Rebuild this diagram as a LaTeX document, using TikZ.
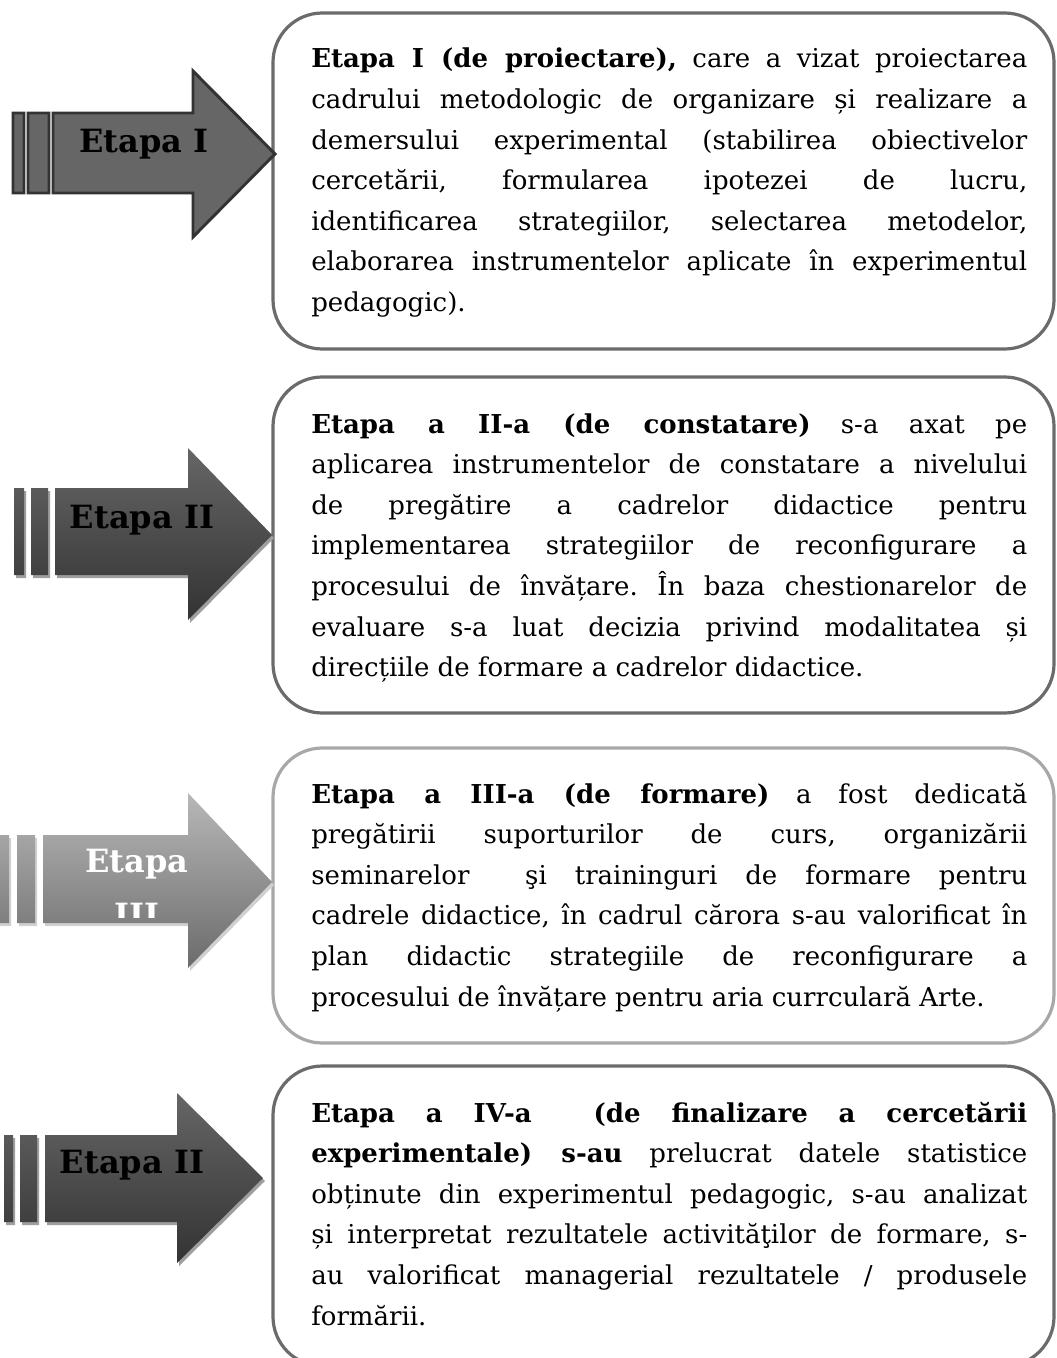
\documentclass[tikz,border=0pt]{standalone}
\usepackage{fontspec}
\setmainfont{DejaVu Serif}
\frenchspacing
\definecolor{boxdark}{HTML}{6B6B6B}
\definecolor{boxlight}{HTML}{A8A8A8}
\definecolor{arrowfill}{HTML}{666666}
\definecolor{arrowline}{HTML}{333333}
\definecolor{shadowdark}{HTML}{9E9E9E}
\definecolor{shadowlight}{HTML}{D0D0D0}
\newlength\stw
\setlength\stw{537pt}
\newcommand\jl[1]{\hbox to\stw{#1}}
\newcommand\lastln[1]{\hbox{#1}}
\newcommand\bodyfont{\fontsize{19.5}{30.45}\selectfont}
\newcommand\labelfont{\fontsize{24}{30}\selectfont\bfseries}
\newcommand\stagetext[1]{\vtop{\hsize=\stw\baselineskip=30.45pt\lineskiplimit=-30pt\lineskip=0pt #1}}
\tikzset{
  stagebox/.style={draw=#1, line width=2.4pt, rounded corners=37pt, fill=white},
  bodytext/.style={anchor=base west, inner sep=0pt, font=\bodyfont, text=black},
  arrowlabel/.style={anchor=base, inner sep=0pt, font=\labelfont, text=black},
}
\begin{document}
\begin{tikzpicture}[x=0.75pt,y=-0.75pt]
\useasboundingbox (0,0) rectangle (1056,1358);
\fill[white] (0,0) rectangle (1056,1358);

% boxes
\path[stagebox=boxdark] (273,13) rectangle (1054,349);
\path[stagebox=boxdark] (273,377) rectangle (1054,713);
\path[stagebox=boxlight] (273,748) rectangle (1054,1043);
\path[stagebox=boxdark] (273,1066) rectangle (1054,1366);

% arrow 1
\path[fill=arrowfill, draw=arrowline, line width=2.2pt, line join=miter]
  (53,113) -- (193,113) -- (193,71) -- (275,154) -- (193,237) -- (193,193) -- (53,193) -- cycle
  (13,113) rectangle (24,193)
  (28,113) rectangle (49,193);
\node[arrowlabel] (l1) at (144,153) {Etapa I};

% arrow 2
\begin{scope}[shift={(2,3)}]
\fill[shadowdark]
  (55,488) -- (188,488) -- (188,448) -- (272,535) -- (188,620) -- (188,575) -- (55,575) -- cycle
  (14,488) rectangle (24,575)
  (31,488) rectangle (48,575);
\end{scope}
\shade[top color=black!60, bottom color=black!80]
  (55,488) -- (188,488) -- (188,448) -- (272,535) -- (188,620) -- (188,575) -- (55,575) -- cycle
  (14,488) rectangle (24,575)
  (31,488) rectangle (48,575);
\node[arrowlabel] (l2) at (142,528) {Etapa II};

% arrow 3
\begin{scope}[shift={(2,3)}]
\fill[shadowlight]
  (43,835) -- (188,835) -- (188,793) -- (272,882) -- (188,968) -- (188,923) -- (43,923) -- cycle
  (-5,835) rectangle (9,923)
  (17,835) rectangle (35,923);
\end{scope}
\shade[top color=black!28, bottom color=black!58]
  (43,835) -- (188,835) -- (188,793) -- (272,882) -- (188,968) -- (188,923) -- (43,923) -- cycle
  (-5,835) rectangle (9,923)
  (17,835) rectangle (35,923);
\begin{scope}
\clip (40,830) rectangle (200,917);
\node[arrowlabel, text=white] (l3a) at (137,872) {Etapa};
\node[arrowlabel, text=white] (l3b) at (137,926) {III};
\end{scope}

% arrow 4
\begin{scope}[shift={(2,3)}]
\fill[shadowdark]
  (45,1135) -- (177,1135) -- (177,1093) -- (263,1178) -- (177,1263) -- (177,1222) -- (45,1222) -- cycle
  (4,1135) rectangle (13,1222)
  (20,1135) rectangle (37,1222);
\end{scope}
\shade[top color=black!60, bottom color=black!80]
  (45,1135) -- (177,1135) -- (177,1093) -- (263,1178) -- (177,1263) -- (177,1222) -- (45,1222) -- cycle
  (4,1135) rectangle (13,1222)
  (20,1135) rectangle (37,1222);
\node[arrowlabel] (l4) at (132,1173) {Etapa II};

% texts
\node[bodytext] (t1) at (311,68) {\stagetext{%
\jl{\textbf{Etapa I (de proiectare),} care a vizat proiectarea}
\jl{cadrului metodologic de organizare și realizare a}
\jl{demersului experimental (stabilirea obiectivelor}
\jl{cercetării, formularea ipotezei de lucru,}
\jl{identificarea strategiilor, selectarea metodelor,}
\jl{elaborarea instrumentelor aplicate în experimentul}
\lastln{pedagogic).}}};

\node[bodytext] (t2) at (311,433) {\stagetext{%
\jl{\textbf{Etapa a II-a (de constatare)} s-a axat pe}
\jl{aplicarea instrumentelor de constatare a nivelului}
\jl{de pregătire a cadrelor didactice pentru}
\jl{implementarea strategiilor de reconfigurare a}
\jl{procesului de învățare. În baza chestionarelor de}
\jl{evaluare s-a luat decizia privind modalitatea și}
\lastln{direcțiile de formare a cadrelor didactice.}}};

\node[bodytext] (t3) at (311,803) {\stagetext{%
\jl{\textbf{Etapa a III-a (de formare)} a fost dedicată}
\jl{pregătirii suporturilor de curs, organizării}
\jl{seminarelor\ \ şi traininguri de formare pentru}
\jl{cadrele didactice, în cadrul cărora s-au valorificat în}
\jl{plan didactic strategiile de reconfigurare a}
\lastln{procesului de învățare pentru aria currculară Arte.}}};

\node[bodytext] (t4) at (311,1122) {\stagetext{%
\jl{\textbf{Etapa a IV-a\ \ (de finalizare a cercetării}}
\jl{\textbf{experimentale) s-au} prelucrat datele statistice}
\jl{obținute din experimentul pedagogic, s-au analizat}
\jl{și interpretat rezultatele activităţilor de formare, s-}
\jl{au valorificat managerial rezultatele / produsele}
\lastln{formării.}}};
\end{tikzpicture}
\end{document}
